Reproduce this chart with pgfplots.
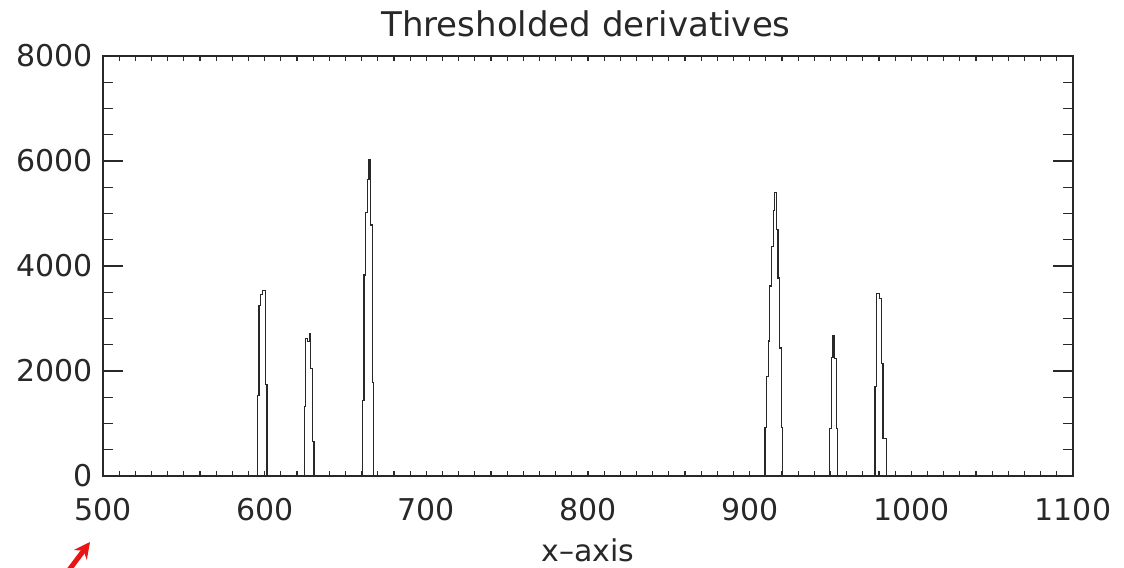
\documentclass[border=0pt]{standalone}
\usepackage{pgfplots}
\pgfplotsset{compat=1.18}
\usepackage{fontspec}
\setmainfont{DejaVu Sans}
\usetikzlibrary{arrows.meta}
\definecolor{ink}{RGB}{40,40,40}
\definecolor{arrowred}{RGB}{235,20,20}

\pgfplotstableread{
x y
500 0
595 0
596 1540
597 3250
598 3450
599 3530
600 3530
601 1750
602 0
624 0
625 1320
626 2620
627 2560
628 2720
629 2050
630 650
631 0
660 0
661 1440
662 3830
663 5020
664 5650
665 6030
666 4780
667 1780
668 0
909 0
910 930
911 1890
912 2570
913 3620
914 4370
915 5050
916 5400
917 4690
918 3770
919 2440
920 930
921 0
949 0
950 910
951 2260
952 2670
953 2240
954 910
955 0
977 0
978 1710
979 3470
980 3470
981 3380
982 2150
983 720
984 720
985 0
1100 0
}\derivs

\begin{document}
\begin{tikzpicture}
\useasboundingbox (0,0) rectangle (562bp,284bp);
\pgfplotsset{base/.style={scale only axis, width=485bp, height=210bp,
  at={(51.5bp,46bp)}, anchor=south west,
  xmin=500, xmax=1100, ymin=0, ymax=8000,
  axis line style={ink, line width=0.6bp},
  tick style={ink, line width=0.6bp},
  tick align=inside, scaled ticks=false,
  /pgf/number format/1000 sep={},
  /pgf/number format/assume math mode=true,
  tick label style={font=\fontsize{15bp}{18bp}\selectfont, text=ink}}}

\begin{axis}[base, xtick={500,600,...,1100}, minor x tick num=9,
  major tick length=2.5bp, minor tick length=2.5bp, ytick=\empty,
  xticklabel style={yshift=-7.5bp}]
\addplot[const plot mark mid, ink, line width=0.6bp, mark=none] table[x=x,y=y] {\derivs};
\end{axis}

\begin{axis}[base, xtick=\empty, ytick={0,2000,...,8000}, minor y tick num=3,
  major tick length=10bp, minor tick length=5bp,
  yticklabel style={xshift=-1.5bp}]
\end{axis}

\node[font=\fontsize{17bp}{20bp}\selectfont, text=ink] at (293bp,272bp) {Thresholded derivatives};
\node[font=\fontsize{15bp}{18bp}\selectfont, text=ink] at (294bp,9bp) {x--axis};
\draw[arrowred, line width=2.5bp, -{Stealth[length=8bp,width=8bp]}] (33bp,-3bp) -- (45bp,13bp);
\end{tikzpicture}
\end{document}
